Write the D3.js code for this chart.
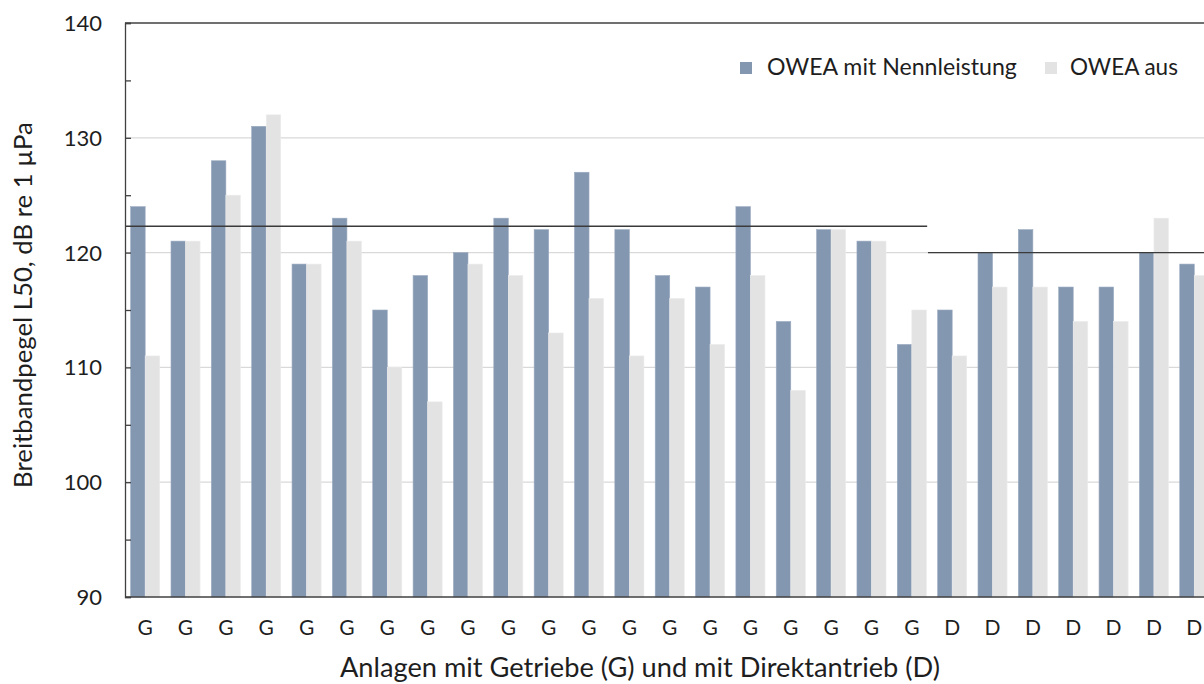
<!DOCTYPE html>
<html>
<head>
<meta charset="utf-8">
<script src="https://cdn.jsdelivr.net/npm/d3@7/dist/d3.min.js"></script>
<style>
  html, body { margin: 0; padding: 0; background: #fff; }
  svg { display: block; }
  text { font-family: Lato, "Open Sans", sans-serif; fill: #1e1e1e; }
</style>
</head>
<body>
<svg id="chart" width="1204" height="684"></svg>
<script>
// ---- data ----
const categories = ["G","G","G","G","G","G","G","G","G","G","G","G","G","G","G","G","G","G","G","G","D","D","D","D","D","D","D"];
const seriesNames = ["OWEA mit Nennleistung", "OWEA aus"];
const owaNennleistung = [124,121,128,131,119,123,115,118,120,123,122,127,122,118,117,124,114,122,121,112,115,120,122,117,117,120,119];
const owaAus = [111,121,125,132,119,121,110,107,119,118,113,116,111,116,112,118,108,122,121,115,111,117,117,114,114,123,118];
const meanLevels = [122.3, 120.0];
const meanStartIdx = [-0.5, 19.4];
const meanEndIdx = [19.38, 26.5];
const yTicks = [90, 100, 110, 120, 130, 140];
const yMinorTicks = [95, 105, 115, 125, 135];
const xTitle = "Anlagen mit Getriebe (G) und mit Direktantrieb (D)";
const yTitle = "Breitbandpegel L50, dB re 1 \u00b5Pa";

// ---- layout ----
const W = 1204, H = 684;
const mLeft = 125, mTop = 23, mBottom = 597;
const step = 40.35;
const colors = ["#8497b0", "#e3e3e3"];

const svg = d3.select("#chart");

const idx = categories.map((_, i) => i);
const x = d3.scaleBand().domain(idx).range([mLeft, mLeft + step * categories.length]).paddingInner(0.28).paddingOuter(0.14);
const xs = d3.scaleBand().domain([0, 1]).range([0, x.bandwidth()]);
const xCenter = d3.scaleLinear().domain([0, 1]).range([x(0) + x.bandwidth() / 2, x(1) + x.bandwidth() / 2]);
const y = d3.scaleLinear().domain([90, 140]).range([mBottom, mTop]);

function fit(sel, target) {
  const node = sel.node();
  const fs = parseFloat(sel.attr("font-size"));
  const w = node.getComputedTextLength();
  sel.attr("font-size", (fs * target / w).toFixed(2));
}

// gridlines
svg.append("g").selectAll("line").data([100, 110, 120, 130]).join("line")
  .attr("x1", mLeft).attr("x2", W)
  .attr("y1", d => y(d)).attr("y2", d => y(d))
  .attr("stroke", "#d9d9d9").attr("stroke-width", 1.2);

// bars
const series = [owaNennleistung, owaAus];
const gBars = svg.append("g");
series.forEach((vals, s) => {
  gBars.append("g").selectAll("rect").data(vals).join("rect")
    .attr("x", (d, i) => x(i) + xs(s))
    .attr("width", xs.bandwidth())
    .attr("y", d => y(d))
    .attr("height", d => y(90) - y(d))
    .attr("fill", colors[s])
    .attr("stroke", s === 0 ? "#9aaac0" : "#ececec")
    .attr("stroke-width", 0.6);
});

// mean lines
svg.append("g").selectAll("line").data(meanLevels).join("line")
  .attr("x1", (d, i) => Math.max(mLeft, xCenter(meanStartIdx[i])))
  .attr("x2", (d, i) => xCenter(meanEndIdx[i]) + (i === meanLevels.length - 1 ? 40 : 0))
  .attr("y1", d => y(d)).attr("y2", d => y(d))
  .attr("stroke", "#3a3a3a").attr("stroke-width", 1.4);

// top border
svg.append("line").attr("x1", mLeft).attr("x2", W).attr("y1", y(140)).attr("y2", y(140))
  .attr("stroke", "#404040").attr("stroke-width", 1.3);
// x axis line
svg.append("line").attr("x1", mLeft).attr("x2", W).attr("y1", y(90)).attr("y2", y(90))
  .attr("stroke", "#404040").attr("stroke-width", 1.3);

// y axis
const yAxis = d3.axisRight(y).tickValues(yTicks.concat(yMinorTicks)).tickSize(6).tickFormat("");
const gy = svg.append("g").attr("transform", `translate(${mLeft},0)`).call(yAxis);
gy.select(".domain").attr("stroke", "#404040").attr("stroke-width", 1.3);
gy.selectAll(".tick line").attr("stroke", "#404040").attr("stroke-width", 1.3);

svg.append("g").selectAll("text").data(yTicks).join("text")
  .attr("x", 102).attr("y", d => y(d)).attr("dy", "0.36em")
  .attr("text-anchor", "end").attr("font-size", 22)
  .text(d => d);

// category labels
svg.append("g").selectAll("text").data(categories).join("text")
  .attr("x", (d, i) => x(i) + x.bandwidth() / 2)
  .attr("y", 635)
  .attr("text-anchor", "middle").attr("font-size", 21)
  .text(d => d);

// axis titles
const xt = svg.append("text").attr("x", 640).attr("y", 677).attr("text-anchor", "middle")
  .attr("font-size", 22).text(xTitle);
fit(xt, 600);

const yt = svg.append("text").attr("transform", `translate(32,${(mTop + mBottom) / 2 - 5}) rotate(-90)`)
  .attr("text-anchor", "middle").attr("font-size", 22).text(yTitle);
fit(yt, 366);

// legend
const legX = [740, 1045];
const legTextX = [767, 1070];
const legW = [250, 108];
const leg = svg.append("g");
seriesNames.forEach((name, i) => {
  leg.append("rect").attr("x", legX[i]).attr("y", 62).attr("width", 12).attr("height", 12).attr("fill", colors[i]);
  const t = leg.append("text").attr("x", legTextX[i]).attr("y", 75).attr("font-size", 20).text(name);
  fit(t, legW[i]);
});
</script>
</body>
</html>
